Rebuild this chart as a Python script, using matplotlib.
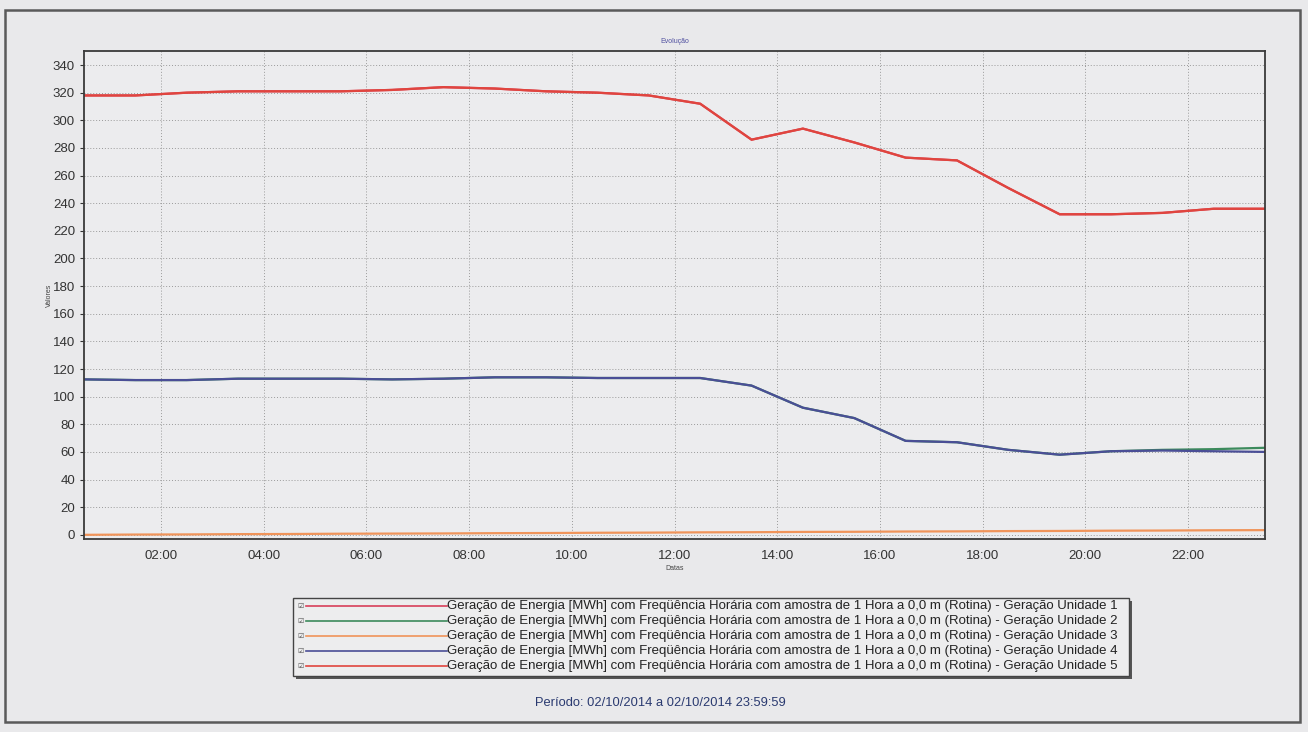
import matplotlib
matplotlib.use('Agg')
import matplotlib.pyplot as plt
from matplotlib.lines import Line2D
from matplotlib.patches import Rectangle

plt.rcParams['font.family'] = ['Liberation Sans', 'DejaVu Sans']

# hourly samples, plotted at the middle of each hour
hours = [0.5, 1.5, 2.5, 3.5, 4.5, 5.5, 6.5, 7.5, 8.5, 9.5, 10.5, 11.5,
         12.5, 13.5, 14.5, 15.5, 16.5, 17.5, 18.5, 19.5, 20.5, 21.5, 22.5, 23.5]

unit1 = [318, 318, 320, 321, 321, 321, 322, 324, 323, 321, 320, 318,
         312, 286, 294, 284, 273, 271, 251, 232, 232, 233, 236, 236]
unit2 = [112.5, 112, 112, 113, 113, 113, 112.5, 113, 114, 114, 113.5, 113.5,
         113.5, 108, 92, 84.5, 68, 67, 61.5, 58, 60.5, 61.5, 62, 63]
unit3 = [0.0, 0.2, 0.3, 0.5, 0.6, 0.8, 0.9, 1.0, 1.2, 1.3, 1.5, 1.6,
         1.8, 1.9, 2.1, 2.2, 2.4, 2.5, 2.7, 2.8, 3.0, 3.1, 3.3, 3.4]
unit4 = [112.5, 112, 112, 113, 113, 113, 112.5, 113, 114, 114, 113.5, 113.5,
         113.5, 108, 92, 84.5, 68, 67, 61.5, 58, 60.5, 61, 60.5, 60]
unit5 = [318, 318, 320, 321, 321, 321, 322, 324, 323, 321, 320, 318,
         312, 286, 294, 284, 273, 271, 251, 232, 232, 233, 236, 236]

series = [unit1, unit2, unit3, unit4, unit5]
colors = ['#d8405a', '#3c8a5c', '#f0945a', '#4a4e96', '#e0453e']
label_base = ('Geração de Energia [MWh] com Freqüência Horária com amostra de 1 Hora '
              'a 0,0 m (Rotina) - Geração Unidade {}')
labels = [label_base.format(i) for i in range(1, 6)]

xticks = [2, 4, 6, 8, 10, 12, 14, 16, 18, 20, 22]
xticklabels = ['02:00', '04:00', '06:00', '08:00', '10:00', '12:00',
               '14:00', '16:00', '18:00', '20:00', '22:00']
yticks = list(range(0, 341, 20))

bg = '#e9e9eb'
fig = plt.figure(figsize=(13.08, 7.32), dpi=100, facecolor=bg)
ax = fig.add_axes([0.0642, 0.2637, 0.9030, 0.6663], facecolor='#ececee')

for vals, c in zip(series, colors):
    ax.plot(hours, vals, color=c, lw=1.6, solid_joinstyle='miter')

ax.set_xlim(0.5, 23.5)
ax.set_ylim(-3, 350)
ax.set_xticks(xticks)
ax.set_xticklabels(xticklabels)
ax.set_yticks(yticks)
ax.tick_params(axis='both', labelsize=9.5, colors='#333333', length=3, width=0.8)
ax.tick_params(axis='x', length=0, pad=8)
ax.grid(True, color='#9a9a9a', ls=(0, (1, 2)), lw=0.7)
for s in ax.spines.values():
    s.set_color('#3a3a3a')
    s.set_linewidth(1.3)

ax.set_title('Evolução', fontsize=5, color='#5050a0', pad=6)
ax.set_xlabel('Datas', fontsize=5, color='#444444', labelpad=2)
ax.set_ylabel('Valores', fontsize=5, color='#444444', labelpad=0)

# outer frame of the report page
fig.add_artist(Rectangle((5 / 1308, 10 / 732), 1295 / 1308, 712 / 732,
                         transform=fig.transFigure, fill=False,
                         edgecolor='#5a5a5a', lw=1.8))

# legend box drawn by hand: check mark, long line sample, description
W, H = 1308.0, 732.0
bx0, bx1, by0, by1 = 293, 1129, 598, 676
fig.add_artist(Rectangle(((bx0 + 3) / W, 1 - (by1 + 3) / H), (bx1 - bx0) / W, (by1 - by0) / H,
                         transform=fig.transFigure, facecolor='#555555', edgecolor='none'))
fig.add_artist(Rectangle((bx0 / W, 1 - by1 / H), (bx1 - bx0) / W, (by1 - by0) / H,
                         transform=fig.transFigure, facecolor='#ededee',
                         edgecolor='#444444', lw=1.0))
row_y = [606, 621, 636, 651, 666]
for yy, c, lab in zip(row_y, colors, labels):
    fy = 1 - yy / H
    fig.text(297 / W, fy, '☑', fontsize=5, color='#555555', va='center', ha='left')
    fig.add_artist(Line2D([306 / W, 447 / W], [fy, fy], transform=fig.transFigure,
                          color=c, lw=1.2))
    fig.text(447 / W, fy, lab, fontsize=9.5, color='#222222', va='center', ha='left')

fig.text(660 / W, 1 - 703 / H, 'Período: 02/10/2014 a 02/10/2014 23:59:59',
         fontsize=9.3, color='#2a3a70', ha='center', va='center')

fig.savefig('out.png', dpi=100, facecolor=bg)
